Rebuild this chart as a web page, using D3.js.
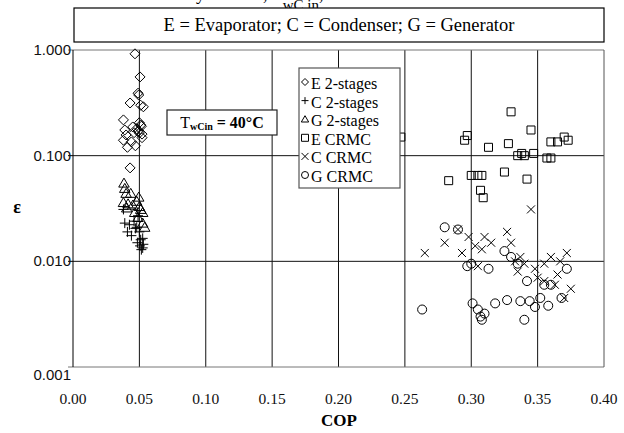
<!DOCTYPE html>
<html><head><meta charset="utf-8">
<script src="https://cdn.jsdelivr.net/npm/d3@7"></script>
<style>body{margin:0;background:#fff}svg{display:block}</style>
</head><body>
<svg id="c" width="624" height="433"></svg>
<script>
const xTicks = [0,0.05,0.10,0.15,0.20,0.25,0.30,0.35,0.40];
const yTicks = [0.001,0.01,0.1,1];
const seriesNames = ["E 2-stages","C 2-stages","G 2-stages","E CRMC","C CRMC","G CRMC"];
const e2cop = [0.0467,0.0505,0.049,0.0495,0.043,0.051,0.053,0.038,0.045,0.051,0.0515,0.039,0.040,0.038,0.044,0.047,0.050,0.052,0.043,0.049,0.046,0.048,0.050,0.041,0.052];
const e2eps = [0.92,0.556,0.39,0.375,0.315,0.30,0.29,0.218,0.187,0.195,0.19,0.175,0.157,0.14,0.135,0.124,0.164,0.148,0.0766,0.17,0.165,0.18,0.205,0.12,0.16];
const c2cop = [0.038,0.039,0.0425,0.048,0.044,0.050,0.051,0.0485,0.0525,0.0515,0.0525,0.041,0.046,0.049,0.0505,0.053,0.047];
const c2eps = [0.031,0.023,0.0222,0.021,0.0175,0.019,0.016,0.015,0.0134,0.0129,0.0165,0.019,0.024,0.027,0.014,0.0145,0.0205];
const g2cop = [0.0384,0.039,0.040,0.0435,0.0495,0.038,0.0415,0.045,0.050,0.0525,0.0465,0.049,0.0525,0.054,0.0405,0.048,0.051];
const g2eps = [0.055,0.049,0.044,0.044,0.0405,0.036,0.035,0.034,0.033,0.029,0.029,0.026,0.023,0.021,0.032,0.037,0.031];
const ecop = [0.247,0.283,0.295,0.297,0.300,0.305,0.307,0.308,0.309,0.313,0.325,0.328,0.330,0.335,0.338,0.340,0.342,0.345,0.347,0.357,0.360,0.360,0.365,0.370,0.373];
const eeps = [0.15,0.058,0.14,0.155,0.065,0.065,0.047,0.065,0.04,0.12,0.07,0.13,0.26,0.10,0.105,0.10,0.06,0.175,0.105,0.095,0.095,0.135,0.135,0.15,0.14];
const ccop = [0.265,0.280,0.290,0.293,0.298,0.303,0.305,0.308,0.310,0.315,0.327,0.330,0.333,0.335,0.337,0.340,0.345,0.348,0.350,0.355,0.360,0.363,0.365,0.370,0.372,0.375,0.355,0.367];
const ceps = [0.012,0.015,0.020,0.012,0.017,0.014,0.009,0.013,0.017,0.015,0.019,0.015,0.010,0.008,0.011,0.0095,0.031,0.0085,0.007,0.0065,0.011,0.006,0.0075,0.0045,0.012,0.0055,0.0095,0.010];
const gcop = [0.263,0.280,0.290,0.297,0.300,0.301,0.305,0.307,0.308,0.310,0.313,0.318,0.325,0.327,0.335,0.337,0.340,0.342,0.344,0.348,0.352,0.355,0.358,0.360,0.368,0.372,0.330];
const geps = [0.0035,0.021,0.020,0.009,0.0095,0.004,0.0035,0.003,0.0028,0.0032,0.0085,0.004,0.0125,0.0043,0.0095,0.0042,0.0028,0.0065,0.0042,0.0037,0.0045,0.006,0.0038,0.006,0.0045,0.0085,0.011];

const svg = d3.select("#c");
const x = d3.scaleLinear([0,0.4],[73,604]);
const y = d3.scaleLog([0.001,1],[367,50]);

// partially visible title (cut off at the top edge, as in the reference)
const tt = svg.append("text").attr("x",128).attr("y",0)
  .attr("font-family","Liberation Serif").attr("font-size",18);
tt.append("tspan").text("Sensitivity vs COP, T");
tt.append("tspan").attr("font-size",15).attr("dy",10).text("wC in");
tt.append("tspan").attr("dy",-10).text(", 40°C");

// header box
svg.append("rect").attr("x",74).attr("y",8).attr("width",530).attr("height",34)
  .attr("fill","#fff").attr("stroke","#000").attr("stroke-width",1.2);
svg.append("text").attr("x",339).attr("y",31).attr("text-anchor","middle")
  .attr("font-family","Liberation Serif").attr("font-size",18.5)
  .text("E = Evaporator; C = Condenser; G = Generator");

// grid
const g = svg.append("g");
xTicks.slice(1,-1).forEach(t=>{
  g.append("line").attr("x1",x(t)).attr("x2",x(t)).attr("y1",y(1)).attr("y2",y(0.001)).attr("stroke","#111");
});
[0.1,0.01].forEach(t=>{
  g.append("line").attr("x1",x(0)).attr("x2",x(0.4)).attr("y1",y(t)).attr("y2",y(t)).attr("stroke","#111");
});
g.append("line").attr("x1",x(0)-5).attr("x2",x(0.4)).attr("y1",y(1)).attr("y2",y(1)).attr("stroke","#777");
g.append("line").attr("x1",x(0)-5).attr("x2",x(0.4)).attr("y1",y(0.001)).attr("y2",y(0.001)).attr("stroke","#777");
g.append("line").attr("x1",x(0.4)).attr("x2",x(0.4)).attr("y1",y(1)).attr("y2",y(0.001)).attr("stroke","#555");
g.append("line").attr("x1",x(0)).attr("x2",x(0)).attr("y1",y(1)).attr("y2",y(0.001)).attr("stroke","#000");
[0.1,0.01].forEach(t=>{
  g.append("line").attr("x1",x(0)-5).attr("x2",x(0)).attr("y1",y(t)).attr("y2",y(t)).attr("stroke","#000");
});

// y tick labels
yTicks.forEach(t=>{
  svg.append("text").attr("x",71).attr("y",y(t)+(t===0.001?13:5)).attr("text-anchor","end")
    .attr("font-family","Liberation Sans").attr("font-size",15).attr("fill","#111")
    .text(d3.format(".3f")(t));
});
// x tick labels
xTicks.forEach(t=>{
  svg.append("text").attr("x",x(t)).attr("y",404).attr("text-anchor","middle")
    .attr("font-family","Liberation Serif").attr("font-size",15.5).attr("fill","#111")
    .text(d3.format(".2f")(t));
});
svg.append("text").attr("x",339).attr("y",426).attr("text-anchor","middle")
  .attr("font-family","Liberation Serif").attr("font-weight","bold").attr("font-size",17).text("COP");
svg.append("text").attr("x",17).attr("y",213).attr("text-anchor","middle")
  .attr("font-family","Liberation Serif").attr("font-weight","bold").attr("font-size",18).text("ε");

// marker paths
function shape(type, s){
  const h=s/2;
  switch(type){
    case "diamond": return `M0,${-h}L${h},0L0,${h}L${-h},0Z`;
    case "plus": return `M${-h},0H${h}M0,${-h}V${h}`;
    case "triangle": return `M0,${-h}L${h*1.05},${h*0.8}L${-h*1.05},${h*0.8}Z`;
    case "square": return `M${-h},${-h}H${h}V${h}H${-h}Z`;
    case "x": return `M${-h},${-h}L${h},${h}M${-h},${h}L${h},${-h}`;
    case "circle": return `M${h},0A${h},${h} 0 1,1 ${-h},0A${h},${h} 0 1,1 ${h},0Z`;
  }
}
const series = [
  {cop:e2cop, eps:e2eps, type:"diamond", s:10},
  {cop:c2cop, eps:c2eps, type:"plus", s:10},
  {cop:g2cop, eps:g2eps, type:"triangle", s:10},
  {cop:ecop, eps:eeps, type:"square", s:8},
  {cop:ccop, eps:ceps, type:"x", s:8},
  {cop:gcop, eps:geps, type:"circle", s:9}
];
series.forEach(sr=>{
  svg.append("g").selectAll("path").data(sr.cop.map((c,i)=>[c,sr.eps[i]])).join("path")
    .attr("transform",d=>`translate(${x(d[0])},${y(d[1])})`)
    .attr("d",shape(sr.type,sr.s)).attr("fill","none").attr("stroke","#000").attr("stroke-width",1);
});

// T box
svg.append("rect").attr("x",167).attr("y",110).attr("width",110).attr("height",25)
  .attr("fill","#fff").attr("stroke","#222").attr("stroke-width",1.2);
const tb = svg.append("text").attr("x",222).attr("y",128).attr("text-anchor","middle")
  .attr("font-family","Liberation Serif").attr("font-size",16);
tb.append("tspan").text("T");
tb.append("tspan").attr("font-size",10).attr("font-weight","bold").attr("dy",2).text("wCin");
tb.append("tspan").attr("dy",-2).attr("font-weight","bold").text(" = 40°C");

// legend
const lg = svg.append("g");
lg.append("rect").attr("x",299).attr("y",68).attr("width",101).attr("height",120)
  .attr("fill","#fff").attr("stroke","#555").attr("stroke-width",1.2);
const lt = ["diamond","plus","triangle","square","x","circle"];
seriesNames.forEach((n,i)=>{
  const yy = 85 + i*18.6;
  lg.append("path").attr("transform",`translate(305,${yy-3})`).attr("d",shape(lt[i],7))
    .attr("fill","none").attr("stroke","#000");
  lg.append("text").attr("x",311).attr("y",yy+4).attr("font-family","Liberation Serif")
    .attr("font-size",16).text(n);
});
</script>
</body></html>
